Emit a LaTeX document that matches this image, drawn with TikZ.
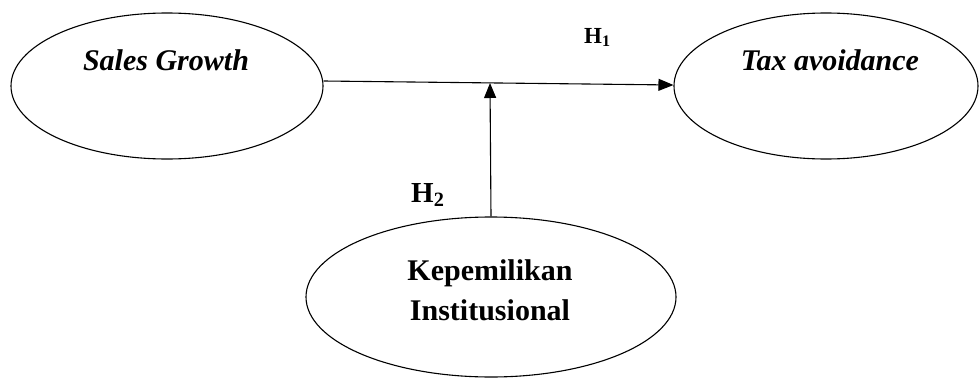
\documentclass[tikz,border=0pt]{standalone}
\usepackage{fontspec}
\setmainfont{Liberation Serif}
\usetikzlibrary{shapes.geometric,arrows.meta}
\tikzset{
  oval/.style={draw=black, line width=1.1pt, ellipse, inner sep=0pt},
  bigtxt/.style={font=\fontsize{30}{40}\selectfont, inner sep=0pt, anchor=base, align=center},
  conn/.style={line width=1.1pt, -{Triangle[length=15pt,width=12pt]}},
  hyp/.style={inner sep=0pt, anchor=base west}
}
\begin{document}
\begin{tikzpicture}[x=1pt,y=-1pt]
\useasboundingbox (0,0) rectangle (980,380);
\node[oval, minimum width=312pt, minimum height=146pt] (sg) at (167,86) {};
\node[oval, minimum width=304pt, minimum height=146pt] (ta) at (826,86) {};
\node[oval, minimum width=370pt, minimum height=160pt] (ki) at (491,297) {};
\node[bigtxt] (sgt) at (166,70) {\textbf{\textit{Sales Growth}}};
\node[bigtxt] (tat) at (830,70) {\textbf{\textit{Tax avoidance}}};
\node[bigtxt] (kit1) at (490,280) {\textbf{Kepemilikan}};
\node[bigtxt] (kit2) at (490,320) {\textbf{Institusional}};
\node[hyp, font=\fontsize{23}{27}\selectfont] (h1) at (584,43) {\textbf{H\textsubscript{1}}};
\node[hyp, font=\fontsize{29}{34}\selectfont] (h2) at (411,202) {\textbf{H\textsubscript{2}}};
\coordinate (m) at (490,83);
\draw[conn] ([yshift=5pt]sg.east) -- ([yshift=1pt]ta.west);
\draw[conn] (ki.north) -- (m);
\end{tikzpicture}
\end{document}
